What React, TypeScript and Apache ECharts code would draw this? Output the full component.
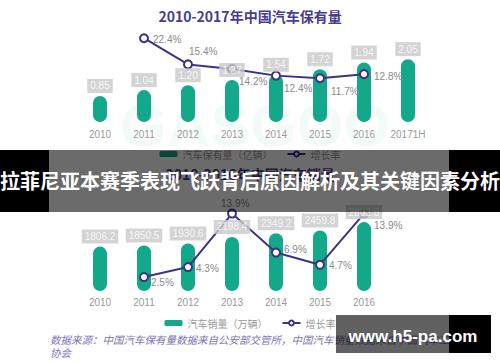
import React, { useEffect, useRef } from "react";
import * as echarts from "echarts";

const years1 = ["2010", "2011", "2012", "2013", "2014", "2015", "2016", "20171H"];
const stock = [0.85, 1.04, 1.2, 1.37, 1.54, 1.72, 1.94, 2.05];
const stockGrowth: (number | null)[] = [null, 22.4, 15.4, 14.2, 12.4, 11.7, 12.8, null];

const years2 = ["2010", "2011", "2012", "2013", "2014", "2015", "2016"];
const sales = [1806.2, 1850.5, 1930.6, 2198.4, 2349.2, 2459.8, 2802.8];
const salesGrowth: (number | null)[] = [null, 2.5, 4.3, 13.9, 6.9, 4.7, 13.9];

const title1 = "2010-2017年中国汽车保有量";
const title2 = "2010-2016年中国汽车销量";
const bannerText = "拉菲尼亚本赛季表现飞跃背后原因解析及其关键因素分析";
const sourceLine1 = "数据来源：中国汽车保有量数据来自公安部交管所，中国汽车销量数据来自中国汽车工业";
const sourceLine2 = "协会";
const watermark = "www.h5-pa.com";

// label offsets (layout only)
const topLabelOffsets: [number, number][] = [[0, 0], [0, 1], [-8, -13], [-2, 13], [-1, 13], [2, 13], [1, 2], [0, 0]];
const botLabelOffsets: [number, number][] = [[0, 0], [-2, 5], [-1, 1], [-20, -10], [-1, -3], [0, 1], [1, 12]];

const GREEN = "#13a88a";
const PURPLE = "#3f3186";
const FONT = '"Liberation Sans", "Noto Sans CJK SC", sans-serif';
const CJK = '"Noto Sans CJK SC", "Liberation Sans", sans-serif';

export default function App() {
  const ref = useRef<HTMLDivElement>(null);
  useEffect(() => {
    document.body.style.margin = "0";
    const chart = echarts.init(ref.current!, undefined, { renderer: "svg" });

    const barLabel = (digits: number) => ({
      show: true,
      position: "top",
      distance: 3,
      backgroundColor: "#c9c9c9",
      color: "#fff",
      fontSize: 10,
      padding: [2, 3],
      formatter: (p: any) => Number(p.value).toFixed(digits),
    });

    const lineData = (vals: (number | null)[], offs: [number, number][]) =>
      vals.map((v, i) => ({
        value: v,
        label: { offset: offs[i] },
      }));

    const lineSeries = (name: string, x: number, y: number, vals: (number | null)[], offs: [number, number][]) => ({
      name,
      type: "line",
      xAxisIndex: x,
      yAxisIndex: y,
      data: lineData(vals, offs),
      symbol: "circle",
      symbolSize: 8,
      lineStyle: { color: PURPLE, width: 2 },
      itemStyle: { color: "#fff", borderColor: PURPLE, borderWidth: 2 },
      label: {
        show: true,
        position: "right",
        distance: 4,
        color: "#8a8a8a",
        fontSize: 10,
        formatter: (p: any) => (p.value == null ? "" : p.value + "%"),
      },
      z: 3,
    });

    const labelSeries = (x: number, y: number, vals: number[], digits: number) => ({
      type: "scatter",
      xAxisIndex: x,
      yAxisIndex: y,
      data: vals,
      symbolSize: 0,
      silent: true,
      label: barLabel(digits),
      zlevel: 1,
      z: 6,
    });

    const xAxisBase = {
      type: "category",
      axisLine: { show: false },
      axisTick: { show: false },
    };

    chart.setOption({
      animation: false,
      textStyle: { fontFamily: FONT },
      title: [
        {
          text: title1,
          left: "center",
          top: 9,
          padding: 0,
          textStyle: { color: "#4a3c8e", fontSize: 14, fontWeight: "bold", fontFamily: CJK },
        },
        {
          text: title2,
          left: "center",
          top: 167,
          padding: 0,
          textStyle: { color: "#4a3c8e", fontSize: 14, fontWeight: "bold", fontFamily: CJK },
        },
      ],
      legend: [
        {
          data: [{ name: "汽车保有量（亿辆）", icon: "roundRect" }, { name: "增长率" }],
          left: "center",
          top: 144,
          itemWidth: 18,
          itemHeight: 6,
          itemGap: 14,
          textStyle: { color: "#9a9a9a", fontSize: 10, fontFamily: CJK },
        },
        {
          data: [{ name: "汽车销量（万辆）", icon: "roundRect" }, { name: "增长率" }],
          left: "center",
          top: 313,
          itemWidth: 18,
          itemHeight: 6,
          itemGap: 14,
          textStyle: { color: "#9a9a9a", fontSize: 10, fontFamily: CJK },
        },
      ],
      grid: [
        { left: 78, top: 30, width: 352, height: 92 },
        { left: 78, top: 190, width: 308, height: 101 },
      ],
      xAxis: [
        {
          ...xAxisBase,
          gridIndex: 0,
          data: years1,
          axisLabel: { color: "#9a9a9a", fontSize: 10, margin: 7, interval: 0 },
        },
        {
          ...xAxisBase,
          gridIndex: 1,
          data: years2,
          axisLabel: { color: "#9a9a9a", fontSize: 10, margin: 6, interval: 0 },
        },
      ],
      yAxis: [
        { gridIndex: 0, type: "value", min: 0, max: 3, show: false },
        { gridIndex: 0, type: "value", min: 0, max: 24.6, show: false },
        { gridIndex: 1, type: "value", min: 0, max: 4109, show: false },
        { gridIndex: 1, type: "value", min: 0, max: 18.13, show: false },
      ],
      series: [
        {
          name: "汽车保有量（亿辆）",
          type: "bar",
          xAxisIndex: 0,
          yAxisIndex: 0,
          data: stock,
          barWidth: 14,
          itemStyle: { color: GREEN, borderRadius: 7 },
        },
        lineSeries("增长率", 0, 1, stockGrowth, topLabelOffsets),
        labelSeries(0, 0, stock, 2),
        {
          name: "汽车销量（万辆）",
          type: "bar",
          xAxisIndex: 1,
          yAxisIndex: 2,
          data: sales,
          barWidth: 14,
          itemStyle: { color: GREEN, borderRadius: 7 },
        },
        lineSeries("增长率", 1, 3, salesGrowth, botLabelOffsets),
        labelSeries(1, 2, sales, 1),
      ],
      graphic: [
        {
          type: "text",
          x: 255,
          y: 125,
          z: -10,
          silent: true,
          style: {
            text: "GASGOO",
            fill: "rgba(20,168,138,0.05)",
            fontSize: 60,
            fontWeight: "bold",
            fontFamily: FONT,
            align: "center",
            verticalAlign: "middle",
          },
        },
        {
          type: "text",
          x: 50,
          y: 339,
          style: {
            text: sourceLine1,
            fill: "#8173b3",
            fontSize: 10.5,
            fontStyle: "italic",
            fontFamily: CJK,
            align: "left",
            verticalAlign: "middle",
          },
        },
        {
          type: "text",
          x: 50,
          y: 352,
          style: {
            text: sourceLine2,
            fill: "#8173b3",
            fontSize: 10.5,
            fontStyle: "italic",
            fontFamily: CJK,
            align: "left",
            verticalAlign: "middle",
          },
        },
        { type: "rect", zlevel: 2, z: 100, shape: { x: 0, y: 150, width: 49, height: 62 }, style: { fill: "#000" } },
        { type: "rect", zlevel: 2, z: 100, shape: { x: 449, y: 150, width: 51, height: 62 }, style: { fill: "#000" } },
        { type: "rect", zlevel: 2, z: 100, shape: { x: 49, y: 150, width: 400, height: 62 }, style: { fill: "rgba(0,0,0,0.58)" } },
        {
          type: "text",
          zlevel: 2,
          z: 101,
          x: 250,
          y: 180,
          style: {
            text: bannerText,
            fill: "#fff",
            fontSize: 20,
            fontWeight: "bold",
            fontFamily: CJK,
            align: "center",
            verticalAlign: "middle",
          },
        },
        { type: "rect", zlevel: 2, z: 100, shape: { x: 336, y: 315, width: 113, height: 38 }, style: { fill: "rgba(0,0,0,0.62)" } },
        { type: "rect", zlevel: 2, z: 100, shape: { x: 449, y: 315, width: 42, height: 38 }, style: { fill: "#000" } },
        {
          type: "text",
          zlevel: 2,
          z: 101,
          x: 413,
          y: 336,
          style: {
            text: watermark,
            fill: "#fff",
            fontSize: 17,
            fontWeight: "bold",
            fontFamily: FONT,
            align: "center",
            verticalAlign: "middle",
          },
        },
      ],
    });
    return () => chart.dispose();
  }, []);
  return <div ref={ref} style={{ width: 500, height: 362 }} />;
}
